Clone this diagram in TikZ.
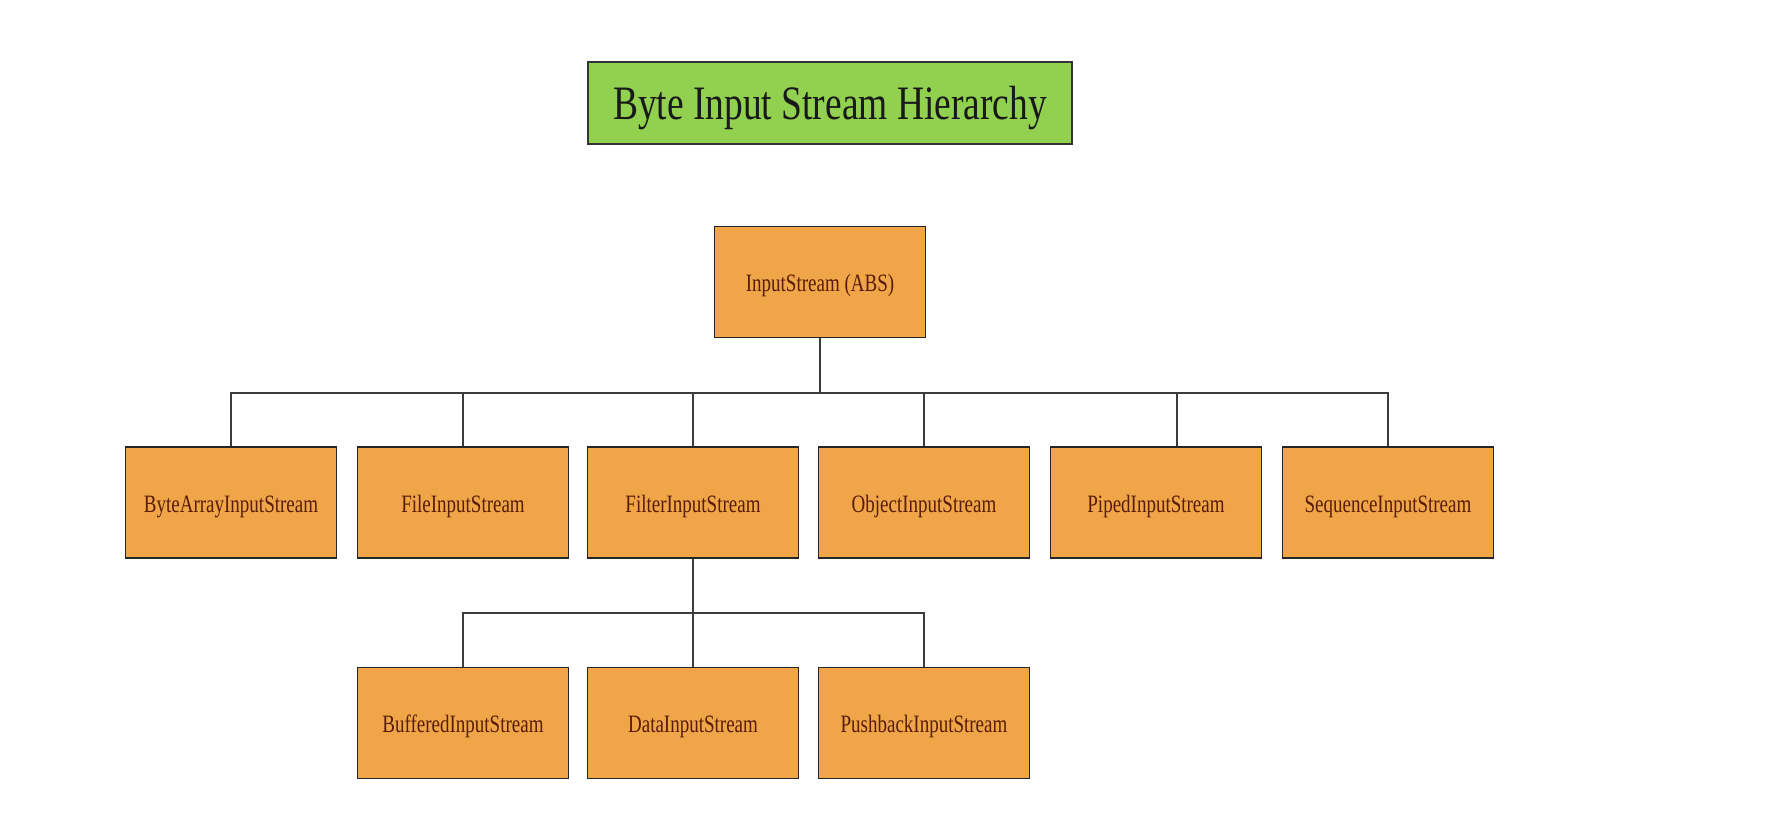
\documentclass[tikz,border=0pt]{standalone}
\usepackage{fontspec}
\setmainfont{Liberation Serif}
\definecolor{boxfill}{RGB}{240,166,72}
\definecolor{titlefill}{RGB}{146,208,80}
\definecolor{boxtext}{RGB}{88,28,8}
\definecolor{linegray}{RGB}{60,60,60}
\newcommand{\narrowtext}[1]{\scalebox{0.76}[1]{#1}}
\begin{document}
\begin{tikzpicture}[x=1pt,y=-1pt,
  classbox/.style={draw=black!85, line width=1.8pt, fill=boxfill, rectangle,
    minimum width=211pt, minimum height=111pt, inner sep=0pt,
    text height=19pt, text depth=0pt,
    text=boxtext, font=\fontsize{25}{30}\selectfont},
  titlebox/.style={draw=black!80, line width=1.8pt, fill=titlefill, rectangle,
    minimum width=484pt, minimum height=82pt, inner sep=0pt,
    text height=34pt, text depth=0pt,
    text=black!90, font=\fontsize{48}{56}\selectfont},
  conn/.style={draw=linegray, line width=1.6pt}]
\path[use as bounding box] (0,0) rectangle (1774,826);

\node[titlebox] (title) at (830,103) {\scalebox{0.78}[1]{Byte Input Stream Hierarchy}};

\node[classbox] (root) at (820,282) {\narrowtext{InputStream (ABS)}};

\node[classbox] (c1) at (231,502.5) {\narrowtext{ByteArrayInputStream}};
\node[classbox] (c2) at (463,502.5) {\narrowtext{FileInputStream}};
\node[classbox] (c3) at (693,502.5) {\narrowtext{FilterInputStream}};
\node[classbox] (c4) at (924,502.5) {\narrowtext{ObjectInputStream}};
\node[classbox] (c5) at (1156,502.5) {\narrowtext{PipedInputStream}};
\node[classbox] (c6) at (1388,502.5) {\narrowtext{SequenceInputStream}};

\node[classbox] (d1) at (463,723) {\narrowtext{BufferedInputStream}};
\node[classbox] (d2) at (693,723) {\narrowtext{DataInputStream}};
\node[classbox] (d3) at (924,723) {\narrowtext{PushbackInputStream}};

\coordinate (bus1) at (0,393);
\coordinate (bus2) at (0,613);

\draw[conn] (root.south) -- (root.south |- bus1) -| (c1.north);
\draw[conn] (root.south) -- (root.south |- bus1) -| (c2.north);
\draw[conn] (root.south) -- (root.south |- bus1) -| (c3.north);
\draw[conn] (root.south) -- (root.south |- bus1) -| (c4.north);
\draw[conn] (root.south) -- (root.south |- bus1) -| ([xshift=21pt]c5.north);
\draw[conn] (root.south) -- (root.south |- bus1) -| (c6.north);

\draw[conn] (c3.south) -- (c3.south |- bus2) -| (d1.north);
\draw[conn] (c3.south) -- (d2.north);
\draw[conn] (c3.south) -- (c3.south |- bus2) -| (d3.north);
\end{tikzpicture}
\end{document}
